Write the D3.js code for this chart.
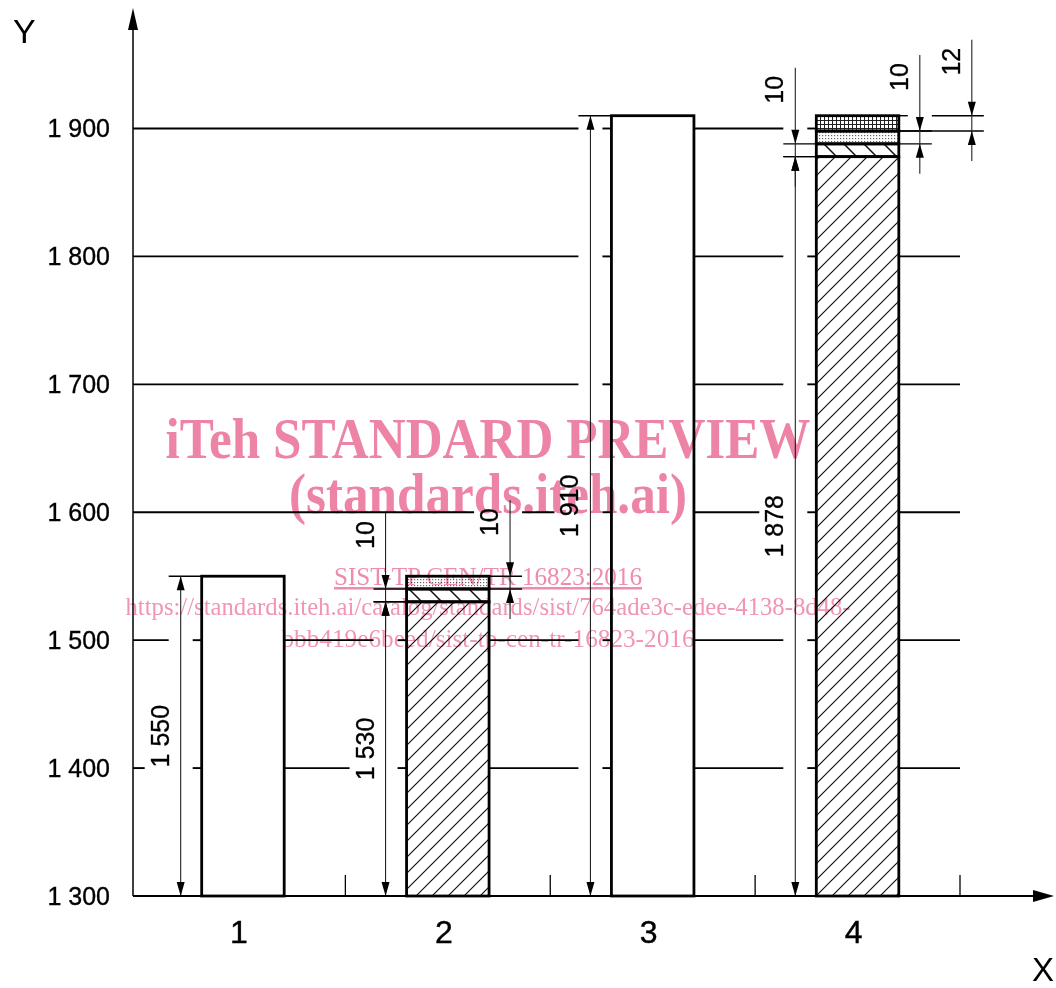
<!DOCTYPE html>
<html>
<head>
<meta charset="utf-8">
<script src="https://cdn.jsdelivr.net/npm/d3@7"></script>
<style>
  body { margin: 0; background: #fff; }
  svg { display: block; }
</style>
</head>
<body>
<div id="chart"></div>
<script>
// bar heights in mm, base + thin layers stacked on top
const categories = ["1", "2", "3", "4"];
const baseHeight = [1550, 1530, 1910, 1878];
const layer1 = [0, 10, 0, 10];
const layer2 = [0, 10, 0, 10];
const layer3 = [0, 0, 0, 12];
const yTicks = [1300, 1400, 1500, 1600, 1700, 1800, 1900];

// dimension lines: lo 0 = measured from the floor
const dimensions = [
  { cat: "1", lo: 0, hi: 1550, side: "left" },
  { cat: "2", lo: 0, hi: 1530, side: "left" },
  { cat: "2", lo: 1530, hi: 1540, side: "left" },
  { cat: "2", lo: 1540, hi: 1550, side: "right" },
  { cat: "3", lo: 0, hi: 1910, side: "left" },
  { cat: "4", lo: 0, hi: 1878, side: "left" },
  { cat: "4", lo: 1878, hi: 1888, side: "left" },
  { cat: "4", lo: 1888, hi: 1898, side: "right" },
  { cat: "4", lo: 1898, hi: 1910, side: "outer" }
];

const watermark = [
  "iTeh STANDARD PREVIEW",
  "(standards.iteh.ai)",
  "SIST-TP CEN/TR 16823:2016",
  "https://standards.iteh.ai/catalog/standards/sist/764ade3c-edee-4138-8d48-",
  "bbb419e6beed/sist-tp-cen-tr-16823-2016"
];

const width = 1056, height = 988;
const axisX = 133;
const sans = "Liberation Sans, Arial, Helvetica, sans-serif";
const serif = "Liberation Serif, Times New Roman, serif";

const x = d3.scaleBand().domain(categories).range([140.5, 960]);
const barWidth = 82.5;
const barInset = (x.bandwidth() - barWidth) / 2;
const y = d3.scaleLinear().domain([1300, 1900]).range([896, 128.5]);
const yMin = y.domain()[0];

const fmt = d3.formatLocale({ decimal: ".", thousands: " ", grouping: [3], currency: ["", ""] }).format(",");

const svg = d3.select("#chart").append("svg")
  .attr("width", width)
  .attr("height", height)
  .attr("viewBox", [0, 0, width, height]);

// hatch patterns
const defs = svg.append("defs");
defs.append("pattern").attr("id", "hatch")
  .attr("patternUnits", "userSpaceOnUse").attr("width", 16).attr("height", 16)
  .append("path").attr("d", "M-4,4 l8,-8 M0,16 l16,-16 M12,20 l8,-8")
  .attr("stroke", "#111").attr("stroke-width", 1.2);
defs.append("pattern").attr("id", "coarse")
  .attr("patternUnits", "userSpaceOnUse").attr("width", 20).attr("height", 20)
  .append("path").attr("d", "M0,0 l20,20 M-5,15 l10,10 M15,-5 l10,10")
  .attr("stroke", "#111").attr("stroke-width", 1.5);
const dots = defs.append("pattern").attr("id", "dots")
  .attr("patternUnits", "userSpaceOnUse").attr("width", 3).attr("height", 3);
dots.append("rect").attr("width", 1.2).attr("height", 1.2).attr("fill", "#666");
defs.append("pattern").attr("id", "grid")
  .attr("patternUnits", "userSpaceOnUse").attr("width", 4).attr("height", 4)
  .append("path").attr("d", "M0,0.5 h4 M0.5,0 v4")
  .attr("stroke", "#222").attr("stroke-width", 1);

const rows = categories.map((c, i) => ({
  cat: c, base: baseHeight[i], l1: layer1[i], l2: layer2[i], l3: layer3[i]
}));
const keys = ["base", "l1", "l2", "l3"];
const series = d3.stack().keys(keys)(rows);
const layerFill = { l1: "url(#coarse)", l2: "url(#dots)", l3: "url(#grid)" };
const hasLayers = r => r.l1 + r.l2 + r.l3 > 0;

const bars = rows.map(r => ({
  x0: x(r.cat) + barInset,
  x1: x(r.cat) + barInset + barWidth,
  top: r.base + r.l1 + r.l2 + r.l3
}));

function subtract([a, b], gaps) {
  const out = [];
  let cur = a;
  gaps.map(g => [Math.max(g[0], a), Math.min(g[1], b)])
    .filter(g => g[1] > g[0])
    .sort((p, q) => p[0] - q[0])
    .forEach(g => {
      if (g[0] > cur) out.push([cur, g[0]]);
      cur = Math.max(cur, g[1]);
    });
  if (b > cur) out.push([cur, b]);
  return out.filter(s => s[1] - s[0] > 2);
}

// dimension geometry
const dimGeo = dimensions.map(d => {
  const b = x(d.cat) + barInset;
  const dx = d.side === "left" ? b - 21 : d.side === "right" ? b + barWidth + 21 : b + barWidth + 73;
  const small = d.hi - d.lo < 50;
  const yHi = y(d.hi), yLo = y(Math.max(d.lo, yMin));
  return {
    ...d, dx, small, yHi, yLo,
    top: small ? yHi - 76 : yHi,
    bottom: small ? yLo + 30 : yLo,
    cy: small ? yHi - 54 : (yHi + yLo) / 2,
    edge: d.side === "left" ? b : b + barWidth,
    label: fmt(d.hi - d.lo)
  };
});

// extension lines at each dimensioned level
const extLines = [];
dimGeo.forEach(d => {
  [d.hi, d.lo].filter(v => v > yMin).forEach(v => {
    const yy = y(v);
    const end = d.side === "left" ? d.dx - 12 : d.dx + 12;
    const a = Math.min(d.edge, end), b = Math.max(d.edge, end);
    const gaps = dimGeo
      .filter(o => o.cat === d.cat && o.dx !== d.dx && o.dx > a && o.dx < b &&
        yy > o.top && yy < o.bottom && o.hi !== v && o.lo !== v)
      .map(o => [o.dx - 12, o.dx + 12]);
    subtract([a, b], gaps).forEach(s => extLines.push({ y: yy, x0: s[0], x1: s[1] }));
  });
});

const gGrid = svg.append("g").attr("stroke", "#000").attr("stroke-width", 1.9);
const gExt = svg.append("g").attr("stroke", "#000").attr("stroke-width", 1.4);
const gDim = svg.append("g");
const gBars = svg.append("g");

// dimension texts first so their length is known
const dimText = gDim.selectAll("text")
  .data(dimGeo)
  .join("text")
  .attr("transform", d => `translate(${d.dx - 12},${d.cy}) rotate(-90)`)
  .attr("text-anchor", "middle")
  .attr("font-family", sans)
  .attr("font-size", 25)
  .attr("fill", "#000")
  .attr("stroke", "#000")
  .attr("stroke-width", 0.35)
  .text(d => d.label);
dimText.each(function (d) { d.textLen = this.getComputedTextLength(); });

gDim.selectAll("line")
  .data(dimGeo)
  .join("line")
  .attr("x1", d => d.dx).attr("x2", d => d.dx)
  .attr("y1", d => d.top).attr("y2", d => d.bottom)
  .attr("stroke", "#222").attr("stroke-width", 1.1);

const arrow = (ax, tip, dir) =>
  `M${ax},${tip} L${ax - 4},${tip - dir * 14} L${ax + 4},${tip - dir * 14} Z`;
gDim.selectAll("path")
  .data(dimGeo.flatMap(d => d.small
    ? [{ ax: d.dx, tip: d.yHi, dir: 1 }, { ax: d.dx, tip: d.yLo, dir: -1 }]
    : [{ ax: d.dx, tip: d.yHi, dir: -1 }, { ax: d.dx, tip: d.yLo, dir: 1 }]))
  .join("path")
  .attr("d", a => arrow(a.ax, a.tip, a.dir))
  .attr("fill", "#000");

gExt.selectAll("line")
  .data(extLines)
  .join("line")
  .attr("x1", e => e.x0).attr("x2", e => e.x1)
  .attr("y1", e => e.y).attr("y2", e => e.y);

// horizontal grid, broken around bars, dimension lines and texts
const gridSegs = [];
yTicks.filter(v => v > yMin).forEach(v => {
  const yy = y(v);
  const gaps = [];
  bars.forEach(b => { if (b.top > v) gaps.push([b.x0, b.x1]); });
  dimGeo.forEach(d => {
    if (yy > d.top && yy < d.bottom) gaps.push([d.dx - 12, d.dx + 12]);
    if (Math.abs(yy - d.cy) < d.textLen / 2 + 6) gaps.push([d.dx - 36, d.dx - 8]);
  });
  subtract([axisX, x.range()[1]], gaps)
    .filter(s => !extLines.some(e => Math.abs(e.y - yy) < 6 && e.x0 <= s[0] + 1 && e.x1 >= s[1] - 1))
    .forEach(s => gridSegs.push({ y: yy, x0: s[0], x1: s[1] }));
});
gGrid.selectAll("line")
  .data(gridSegs)
  .join("line")
  .attr("x1", s => s.x0).attr("x2", s => s.x1)
  .attr("y1", s => s.y).attr("y2", s => s.y);

// bars
gBars.selectAll("g")
  .data(series)
  .join("g")
  .selectAll("rect")
  .data(s => s.filter(d => d[1] - d[0] > 0).map(d => ({ d, key: s.key })))
  .join("rect")
  .attr("x", o => x(o.d.data.cat) + barInset)
  .attr("width", barWidth)
  .attr("y", o => y(o.d[1]))
  .attr("height", o => y(Math.max(o.d[0], yMin)) - y(o.d[1]))
  .attr("fill", o => o.key === "base" ? (hasLayers(o.d.data) ? "url(#hatch)" : "none") : layerFill[o.key])
  .attr("stroke", "#000")
  .attr("stroke-width", 2.8);

// axes
const yAxis = svg.append("g")
  .attr("transform", `translate(${axisX},0)`)
  .call(d3.axisLeft(y).tickValues(yTicks).tickFormat(fmt).tickSize(0).tickPadding(23))
  .call(g => g.select(".domain").remove());
yAxis.selectAll("text").attr("font-family", sans).attr("font-size", 25).attr("fill", "#000")
  .attr("stroke", "#000").attr("stroke-width", 0.35);

const xAxis = svg.append("g")
  .attr("transform", `translate(0,${y(yMin)})`)
  .call(d3.axisBottom(x).tickSize(0).tickPadding(24))
  .call(g => g.select(".domain").remove());
xAxis.selectAll("text").attr("font-family", sans).attr("font-size", 32).attr("fill", "#000").attr("dx", -4)
  .attr("stroke", "#000").attr("stroke-width", 0.4);

svg.append("g").attr("stroke", "#000").attr("stroke-width", 1.3)
  .selectAll("line")
  .data(categories)
  .join("line")
  .attr("x1", c => x(c) + x.step()).attr("x2", c => x(c) + x.step())
  .attr("y1", y(yMin) - 21).attr("y2", y(yMin));

svg.append("line")
  .attr("x1", axisX).attr("x2", axisX).attr("y1", y(yMin)).attr("y2", 20)
  .attr("stroke", "#000").attr("stroke-width", 1.5);
svg.append("path").attr("d", `M${axisX},8 L${axisX - 5},30 L${axisX + 5},30 Z`).attr("fill", "#000");
svg.append("line")
  .attr("x1", axisX).attr("x2", 1040).attr("y1", y(yMin)).attr("y2", y(yMin))
  .attr("stroke", "#000").attr("stroke-width", 2);
svg.append("path").attr("d", `M1054,${y(yMin)} L1033,${y(yMin) - 6} L1033,${y(yMin) + 6} Z`).attr("fill", "#000");

svg.append("text").attr("x", 13).attr("y", 43)
  .attr("font-family", sans).attr("font-size", 34).text("Y");
svg.append("text").attr("x", 1032).attr("y", 981)
  .attr("font-family", sans).attr("font-size", 33).text("X");

// preview watermark on top
const wm = svg.append("g")
  .style("mix-blend-mode", "multiply")
  .attr("text-anchor", "middle")
  .attr("font-family", serif);
const wmStyle = [
  { y: 458, size: 57, weight: "bold", len: 645, fill: "rgb(238,132,165)" },
  { y: 513, size: 57, weight: "bold", len: 398, fill: "rgb(238,132,165)" },
  { y: 585, size: 25, weight: "normal", len: 308, fill: "rgb(238,140,172)", u: true },
  { y: 615, size: 25, weight: "normal", len: 725, fill: "rgb(240,150,178)" },
  { y: 647, size: 25, weight: "normal", len: 413, fill: "rgb(240,150,178)" }
];
wm.selectAll("text")
  .data(watermark)
  .join("text")
  .attr("x", 488)
  .attr("y", (t, i) => wmStyle[i].y)
  .attr("font-size", (t, i) => wmStyle[i].size)
  .attr("font-weight", (t, i) => wmStyle[i].weight)
  .attr("textLength", (t, i) => wmStyle[i].len)
  .attr("lengthAdjust", "spacingAndGlyphs")
  .attr("fill", (t, i) => wmStyle[i].fill)
  .style("text-decoration", (t, i) => wmStyle[i].u ? "underline" : null)
  .text(t => t);
</script>
</body>
</html>
